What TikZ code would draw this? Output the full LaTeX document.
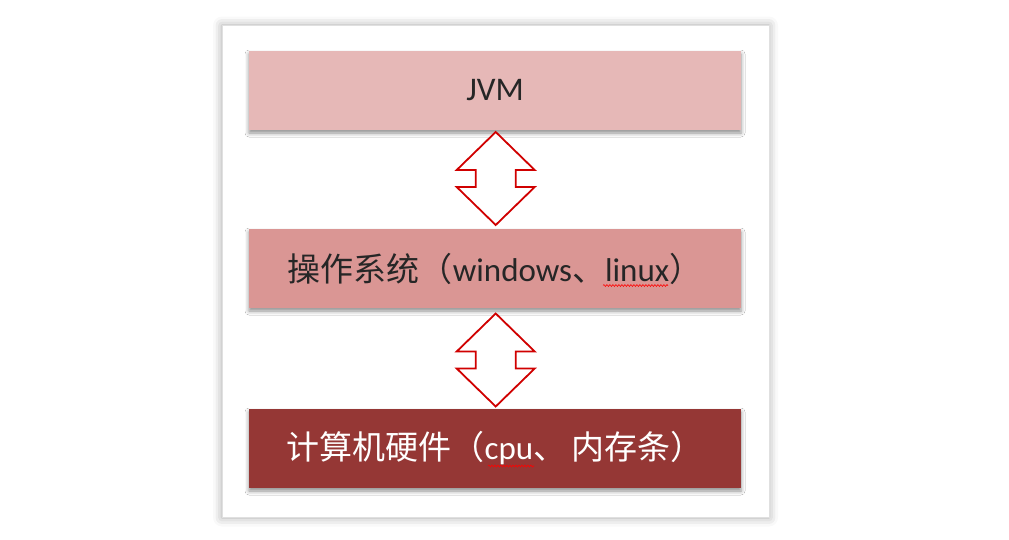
\documentclass[tikz,border=0pt]{standalone}
\usepackage{fontspec}
\setmainfont{Carlito}
\newfontfamily\cjk{Noto Sans CJK SC}
\usetikzlibrary{shadows.blur,decorations.pathmorphing}
\definecolor{boxone}{HTML}{E6B8B7}
\definecolor{boxtwo}{HTML}{DA9694}
\definecolor{boxthree}{HTML}{953735}
\definecolor{arrred}{HTML}{D00000}
\definecolor{txtdark}{HTML}{262626}
\tikzset{
  layer/.style={minimum width=492pt, minimum height=79pt, inner sep=0pt,
    font=\fontsize{33}{40}\selectfont,
    blur shadow={shadow xshift=0pt, shadow yshift=-3pt, shadow blur radius=4pt, shadow opacity=45}},
  panel/.style={fill=white, draw=black!12, line width=0.6pt,
    blur shadow={shadow xshift=0pt, shadow yshift=0pt, shadow blur radius=9pt, shadow opacity=35}},
  dblarrow/.style={draw=arrred, fill=white, line width=1.8pt, line join=miter},
  spell/.style={draw=red, line width=0.6pt, decorate,
    decoration={snake, amplitude=0.9pt, segment length=3pt}}
}
\begin{document}
\begin{tikzpicture}[x=1pt,y=-1pt]
\useasboundingbox (0,0) rectangle (1009,539);
\node[panel, minimum width=547pt, minimum height=492pt, inner sep=0pt] (panel) at (495.5,271.5) {};
\node[layer, fill=boxone, text=txtdark] (jvm) at (495,90.5) {JVM\hspace{3pt}};
\node[layer, fill=boxtwo, text=txtdark] (os) at (495,268.5)
  {{\cjk 操作系统（}windows{\cjk 、}linux{\cjk ）}\hspace{16pt}};
\node[layer, fill=boxthree, text=white] (hw) at (495,448.5)
  {{\cjk 计算机硬件（}cpu{\cjk 、}\hspace{5pt}{\cjk 内存条）}\hspace{6pt}};
% spell-check squiggles
\coordinate (s1a) at (603,285.5);
\coordinate (s1b) at (668,285.5);
\coordinate (s2a) at (488,466);
\coordinate (s2b) at (534,466);
\draw[spell] (s1a) -- (s1b);
\draw[spell] (s2a) -- (s2b);
% double arrows
\foreach \cy/\nm in {178.5/a1, 360/a2}{
  \coordinate (\nm) at (495.7,\cy);
  \draw[dblarrow] ($(\nm)+(0,-46.5)$) -- ($(\nm)+(39,-8.5)$) -- ($(\nm)+(20,-8.5)$)
    -- ($(\nm)+(20,8.5)$) -- ($(\nm)+(39,8.5)$) -- ($(\nm)+(0,46.5)$)
    -- ($(\nm)+(-39,8.5)$) -- ($(\nm)+(-20,8.5)$) -- ($(\nm)+(-20,-8.5)$)
    -- ($(\nm)+(-39,-8.5)$) -- cycle;
}
\end{tikzpicture}
\end{document}
